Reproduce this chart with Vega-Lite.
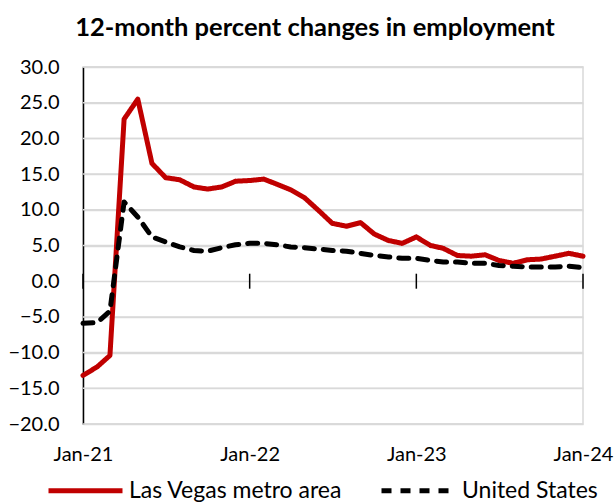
{
  "$schema": "https://vega.github.io/schema/vega-lite/v6.json",
  "autosize": {"type": "none"},
  "width": 500,
  "height": 357,
  "padding": {"left": 83, "top": 67, "right": 33, "bottom": 79},
  "background": "white",
  "config": {
    "font": "Lato",
    "view": {"stroke": "#d9d9d9", "strokeWidth": 1.5},
    "axis": {"labelColor": "black", "labelFont": "Lato", "labelFontSize": 20, "gridColor": "#d9d9d9", "gridWidth": 1.5, "domainColor": "black"}
  },
  "title": {"text": "12-month percent changes in employment", "fontSize": 25.5, "fontWeight": "bold", "font": "Lato", "color": "black", "dx": -18, "offset": 16, "anchor": "middle"},
  "datasets": {
    "emp": [
      {"date": "2021-01-01T00:00:00", "series": "Las Vegas metro area", "value": -13.2},
      {"date": "2021-02-01T00:00:00", "series": "Las Vegas metro area", "value": -12.0},
      {"date": "2021-03-01T00:00:00", "series": "Las Vegas metro area", "value": -10.4},
      {"date": "2021-04-01T00:00:00", "series": "Las Vegas metro area", "value": 22.7},
      {"date": "2021-05-01T00:00:00", "series": "Las Vegas metro area", "value": 25.5},
      {"date": "2021-06-01T00:00:00", "series": "Las Vegas metro area", "value": 16.5},
      {"date": "2021-07-01T00:00:00", "series": "Las Vegas metro area", "value": 14.5},
      {"date": "2021-08-01T00:00:00", "series": "Las Vegas metro area", "value": 14.2},
      {"date": "2021-09-01T00:00:00", "series": "Las Vegas metro area", "value": 13.2},
      {"date": "2021-10-01T00:00:00", "series": "Las Vegas metro area", "value": 12.9},
      {"date": "2021-11-01T00:00:00", "series": "Las Vegas metro area", "value": 13.2},
      {"date": "2021-12-01T00:00:00", "series": "Las Vegas metro area", "value": 14.0},
      {"date": "2022-01-01T00:00:00", "series": "Las Vegas metro area", "value": 14.1},
      {"date": "2022-02-01T00:00:00", "series": "Las Vegas metro area", "value": 14.3},
      {"date": "2022-03-01T00:00:00", "series": "Las Vegas metro area", "value": 13.6},
      {"date": "2022-04-01T00:00:00", "series": "Las Vegas metro area", "value": 12.8},
      {"date": "2022-05-01T00:00:00", "series": "Las Vegas metro area", "value": 11.7},
      {"date": "2022-06-01T00:00:00", "series": "Las Vegas metro area", "value": 9.9},
      {"date": "2022-07-01T00:00:00", "series": "Las Vegas metro area", "value": 8.1},
      {"date": "2022-08-01T00:00:00", "series": "Las Vegas metro area", "value": 7.7},
      {"date": "2022-09-01T00:00:00", "series": "Las Vegas metro area", "value": 8.2},
      {"date": "2022-10-01T00:00:00", "series": "Las Vegas metro area", "value": 6.6},
      {"date": "2022-11-01T00:00:00", "series": "Las Vegas metro area", "value": 5.7},
      {"date": "2022-12-01T00:00:00", "series": "Las Vegas metro area", "value": 5.3},
      {"date": "2023-01-01T00:00:00", "series": "Las Vegas metro area", "value": 6.2},
      {"date": "2023-02-01T00:00:00", "series": "Las Vegas metro area", "value": 5.0},
      {"date": "2023-03-01T00:00:00", "series": "Las Vegas metro area", "value": 4.6},
      {"date": "2023-04-01T00:00:00", "series": "Las Vegas metro area", "value": 3.6},
      {"date": "2023-05-01T00:00:00", "series": "Las Vegas metro area", "value": 3.5},
      {"date": "2023-06-01T00:00:00", "series": "Las Vegas metro area", "value": 3.7},
      {"date": "2023-07-01T00:00:00", "series": "Las Vegas metro area", "value": 2.9},
      {"date": "2023-08-01T00:00:00", "series": "Las Vegas metro area", "value": 2.5},
      {"date": "2023-09-01T00:00:00", "series": "Las Vegas metro area", "value": 3.0},
      {"date": "2023-10-01T00:00:00", "series": "Las Vegas metro area", "value": 3.1},
      {"date": "2023-11-01T00:00:00", "series": "Las Vegas metro area", "value": 3.5},
      {"date": "2023-12-01T00:00:00", "series": "Las Vegas metro area", "value": 3.9},
      {"date": "2024-01-01T00:00:00", "series": "Las Vegas metro area", "value": 3.5},
      {"date": "2021-01-01T00:00:00", "series": "United States", "value": -5.9},
      {"date": "2021-02-01T00:00:00", "series": "United States", "value": -5.8},
      {"date": "2021-03-01T00:00:00", "series": "United States", "value": -4.2},
      {"date": "2021-04-01T00:00:00", "series": "United States", "value": 11.1},
      {"date": "2021-05-01T00:00:00", "series": "United States", "value": 9.0},
      {"date": "2021-06-01T00:00:00", "series": "United States", "value": 6.2},
      {"date": "2021-07-01T00:00:00", "series": "United States", "value": 5.5},
      {"date": "2021-08-01T00:00:00", "series": "United States", "value": 4.8},
      {"date": "2021-09-01T00:00:00", "series": "United States", "value": 4.3},
      {"date": "2021-10-01T00:00:00", "series": "United States", "value": 4.2},
      {"date": "2021-11-01T00:00:00", "series": "United States", "value": 4.7},
      {"date": "2021-12-01T00:00:00", "series": "United States", "value": 5.1},
      {"date": "2022-01-01T00:00:00", "series": "United States", "value": 5.3},
      {"date": "2022-02-01T00:00:00", "series": "United States", "value": 5.3},
      {"date": "2022-03-01T00:00:00", "series": "United States", "value": 5.1},
      {"date": "2022-04-01T00:00:00", "series": "United States", "value": 4.8},
      {"date": "2022-05-01T00:00:00", "series": "United States", "value": 4.7},
      {"date": "2022-06-01T00:00:00", "series": "United States", "value": 4.5},
      {"date": "2022-07-01T00:00:00", "series": "United States", "value": 4.3},
      {"date": "2022-08-01T00:00:00", "series": "United States", "value": 4.2},
      {"date": "2022-09-01T00:00:00", "series": "United States", "value": 3.9},
      {"date": "2022-10-01T00:00:00", "series": "United States", "value": 3.6},
      {"date": "2022-11-01T00:00:00", "series": "United States", "value": 3.4},
      {"date": "2022-12-01T00:00:00", "series": "United States", "value": 3.2},
      {"date": "2023-01-01T00:00:00", "series": "United States", "value": 3.2},
      {"date": "2023-02-01T00:00:00", "series": "United States", "value": 2.9},
      {"date": "2023-03-01T00:00:00", "series": "United States", "value": 2.7},
      {"date": "2023-04-01T00:00:00", "series": "United States", "value": 2.7},
      {"date": "2023-05-01T00:00:00", "series": "United States", "value": 2.5},
      {"date": "2023-06-01T00:00:00", "series": "United States", "value": 2.5},
      {"date": "2023-07-01T00:00:00", "series": "United States", "value": 2.2},
      {"date": "2023-08-01T00:00:00", "series": "United States", "value": 2.1},
      {"date": "2023-09-01T00:00:00", "series": "United States", "value": 2.0},
      {"date": "2023-10-01T00:00:00", "series": "United States", "value": 2.0},
      {"date": "2023-11-01T00:00:00", "series": "United States", "value": 2.0},
      {"date": "2023-12-01T00:00:00", "series": "United States", "value": 2.1},
      {"date": "2024-01-01T00:00:00", "series": "United States", "value": 1.9}
    ],
    "ticks": [
      {"date": "2021-01-01T00:00:00"},
      {"date": "2022-01-01T00:00:00"},
      {"date": "2023-01-01T00:00:00"},
      {"date": "2024-01-01T00:00:00"}
    ],
    "gridvals": [
      {"v": -20}, {"v": -15}, {"v": -10}, {"v": -5}, {"v": 5}, {"v": 10}, {"v": 15}, {"v": 20}, {"v": 25}, {"v": 30}
    ]
  },
  "layer": [
    {
      "data": {"name": "gridvals"},
      "mark": {"type": "rule", "color": "#d9d9d9", "strokeWidth": 1.5},
      "encoding": {
        "y": {"field": "v", "type": "quantitative", "axis": {"title": null, "values": [-20, -15, -10, -5, 0, 5, 10, 15, 20, 25, 30], "format": ".1f", "ticks": false, "grid": true, "domainColor": "black", "domainWidth": 1.5, "labelPadding": 24, "labelOverlap": false, "labelFlush": false}}
      }
    },
    {
      "data": {"name": "emp"},
      "mark": {"type": "line", "strokeWidth": 5, "strokeCap": "round", "strokeJoin": "round"},
      "encoding": {
        "x": {
          "field": "date", "type": "temporal",
          "scale": {"domain": [{"year": 2021, "month": 1, "date": 1}, {"year": 2024, "month": 1, "date": 1}], "nice": false},
          "axis": {"title": null, "domain": false, "ticks": false, "grid": false, "format": "%b-%y", "labelPadding": 20, "labelFlush": false, "labelOverlap": false,
            "values": [{"year": 2021, "month": 1, "date": 1}, {"year": 2022, "month": 1, "date": 1}, {"year": 2023, "month": 1, "date": 1}, {"year": 2024, "month": 1, "date": 1}]}
        },
        "y": {
          "field": "value", "type": "quantitative",
          "scale": {"domain": [-20, 30], "nice": false, "zero": false},
          "axis": {"title": null, "values": [-20, -15, -10, -5, 0, 5, 10, 15, 20, 25, 30], "format": ".1f", "ticks": false, "grid": true, "domainColor": "black", "domainWidth": 1.5, "labelPadding": 24, "labelOverlap": false, "labelFlush": false}
        },
        "color": {
          "field": "series", "type": "nominal",
          "scale": {"domain": ["Las Vegas metro area", "United States"], "range": ["#c00000", "#000000"]},
          "legend": {"title": null, "orient": "none", "direction": "horizontal", "legendX": -37, "legendY": 384, "symbolType": "stroke", "symbolSize": 5476, "symbolStrokeWidth": 5, "labelFontSize": 23, "labelFont": "Lato", "labelColor": "black", "labelOffset": 4, "columnPadding": 28, "labelLimit": 400}
        },
        "strokeDash": {
          "field": "series", "type": "nominal",
          "scale": {"domain": ["Las Vegas metro area", "United States"], "range": [[1, 0], [10, 9]]},
          "legend": {"title": null, "orient": "none", "direction": "horizontal", "legendX": -37, "legendY": 384, "symbolType": "stroke", "symbolSize": 5476, "symbolStrokeWidth": 5, "labelFontSize": 23, "labelFont": "Lato", "labelColor": "black", "labelOffset": 4, "columnPadding": 28, "labelLimit": 400}
        }
      }
    },
    {
      "data": {"name": "ticks"},
      "mark": {"type": "rule", "color": "black", "strokeWidth": 1.5},
      "encoding": {
        "x": {"field": "date", "type": "temporal"},
        "y": {"datum": -1.05, "axis": {"title": null, "values": [-20, -15, -10, -5, 0, 5, 10, 15, 20, 25, 30], "format": ".1f", "ticks": false, "grid": true, "domainColor": "black", "domainWidth": 1.5, "labelPadding": 24, "labelOverlap": false, "labelFlush": false}},
        "y2": {"datum": 1.05}
      }
    },
    {
      "mark": {"type": "rule", "color": "black", "strokeWidth": 1.5},
      "encoding": {"y": {"datum": 0, "axis": {"title": null, "values": [-20, -15, -10, -5, 0, 5, 10, 15, 20, 25, 30], "format": ".1f", "ticks": false, "grid": true, "domainColor": "black", "domainWidth": 1.5, "labelPadding": 24, "labelOverlap": false, "labelFlush": false}}}
    }
  ]
}
